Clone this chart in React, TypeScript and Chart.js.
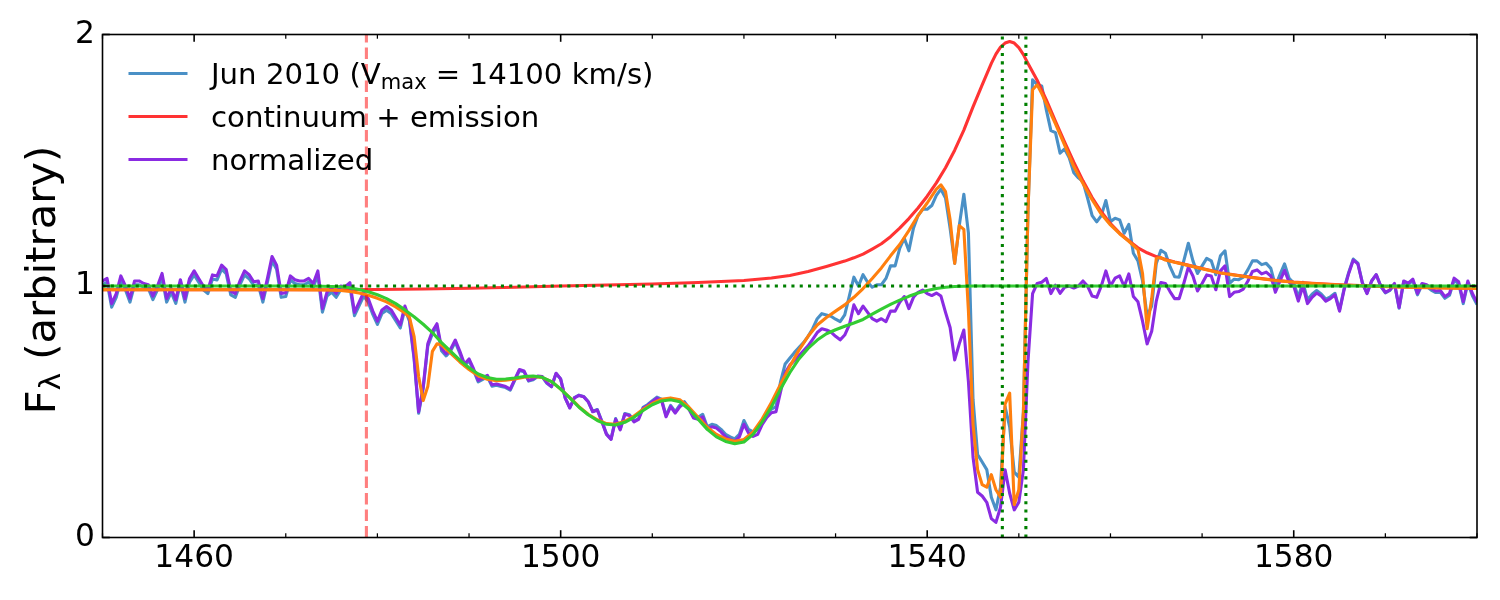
import React, { useEffect, useRef } from "react";
import { Chart, registerables } from "chart.js";

Chart.register(...registerables);

// ---------- axes ----------
const X_MIN = 1450;
const X_MAX = 1600;
const Y_MIN = 0;
const Y_MAX = 2;
const X_MAJOR = [1460, 1500, 1540, 1580];
const X_MINOR = [1450, 1470, 1480, 1490, 1510, 1520, 1530, 1550, 1560, 1570, 1590, 1600];
const Y_MAJOR = [0, 1, 2];

// ---------- observed spectrum (0.5 A sampling from 1450 A) ----------
const OBS_START = 1450;
const OBS_STEP = 0.5;

const NORMALIZED = [
  1.02, 1.03, 0.93, 0.97, 1.04, 1.00, 0.95, 1.02, 1.02, 1.01,
  1.005, 0.96, 1.00, 1.05, 0.95, 0.99, 0.945, 1.025, 0.95, 1.03,
  1.06, 1.03, 1.00, 0.985, 1.044, 1.04, 1.083, 1.065, 0.98, 0.97,
  1.02, 1.06, 1.045, 1.017, 1.02, 0.95, 1.03, 1.117, 1.083, 0.97,
  0.973, 1.04, 1.025, 1.02, 1.02, 1.03, 1.01, 1.06, 0.91, 0.975,
  0.99, 0.97, 1.00, 0.997, 1.013, 0.895, 0.935, 0.975, 0.95, 0.90,
  0.86, 0.905, 0.918, 0.905, 0.875, 0.845, 0.92, 0.87, 0.72, 0.50,
  0.60, 0.77, 0.82, 0.85, 0.752, 0.73, 0.75, 0.785, 0.74, 0.69,
  0.71, 0.67, 0.625, 0.635, 0.645, 0.607, 0.61, 0.605, 0.60, 0.59,
  0.63, 0.668, 0.662, 0.625, 0.63, 0.642, 0.64, 0.615, 0.60, 0.653,
  0.63, 0.554, 0.515, 0.555, 0.565, 0.56, 0.54, 0.50, 0.507, 0.46,
  0.41, 0.39, 0.47, 0.428, 0.49, 0.485, 0.46, 0.47, 0.514, 0.525,
  0.54, 0.554, 0.545, 0.48, 0.52, 0.495, 0.52, 0.535, 0.51, 0.475,
  0.47, 0.48, 0.432, 0.44, 0.435, 0.42, 0.40, 0.39, 0.383, 0.40,
  0.45, 0.415, 0.402, 0.41, 0.45, 0.478, 0.496, 0.50, 0.58, 0.655,
  0.685, 0.703, 0.722, 0.742, 0.762, 0.788, 0.815, 0.83, 0.825, 0.817,
  0.80, 0.786, 0.805, 0.845, 0.925, 0.89, 0.92, 0.895, 0.87, 0.86,
  0.87, 0.858, 0.90, 0.90, 0.935, 0.958, 0.91, 0.955, 0.975, 0.984,
  0.97, 0.962, 0.972, 0.96, 0.895, 0.835, 0.706, 0.77, 0.825, 0.62,
  0.32, 0.18, 0.165, 0.14, 0.075, 0.06, 0.12, 0.269, 0.176, 0.11,
  0.14, 0.27, 0.70, 0.97, 1.01, 1.015, 1.03, 0.97, 1.003, 0.971,
  0.995, 1.0, 0.992, 1.0, 1.02, 1.0, 0.96, 0.955, 1.0, 1.06,
  1.0, 1.031, 1.04, 0.998, 1.048, 0.958, 0.937, 0.86, 0.77, 0.82,
  0.94, 1.014, 1.01, 0.978, 0.95, 0.95, 1.01, 1.075, 1.04, 0.98,
  1.01, 1.044, 1.04, 0.985, 1.06, 1.08, 0.958, 0.975, 0.978, 0.988,
  1.02, 1.058, 1.064, 1.048, 1.055, 1.04, 0.975, 1.02, 1.062, 1.015,
  1.0, 0.94, 1.0, 0.93, 0.955, 0.972, 0.96, 0.94, 0.95, 0.965,
  0.90, 0.985, 1.05, 1.103, 1.088, 1.01, 0.97, 1.02, 1.045, 1.0,
  0.975, 0.985, 1.01, 0.915, 1.02, 1.011, 1.027, 0.97, 1.01, 1.005,
  0.99, 0.98, 0.982, 0.958, 0.97, 1.031, 1.017, 0.938, 1.02, 0.97,
  0.935,
];

const OBSERVED = [
  1.005, 1.015, 0.916, 0.955, 1.024, 0.985, 0.936, 1.005, 1.005, 0.995,
  0.99, 0.946, 0.985, 1.034, 0.936, 0.975, 0.931, 1.01, 0.936, 1.015,
  1.044, 1.015, 0.985, 0.97, 1.028, 1.024, 1.067, 1.049, 0.965, 0.955,
  1.005, 1.044, 1.029, 1.002, 1.005, 0.936, 1.015, 1.10, 1.067, 0.955,
  0.958, 1.024, 1.01, 1.005, 1.005, 1.015, 0.995, 1.044, 0.896, 0.96,
  0.975, 0.955, 0.985, 0.982, 0.998, 0.882, 0.921, 0.96, 0.936, 0.887,
  0.847, 0.891, 0.904, 0.891, 0.862, 0.833, 0.909, 0.86, 0.711, 0.494,
  0.593, 0.761, 0.81, 0.84, 0.743, 0.722, 0.742, 0.777, 0.732, 0.683,
  0.703, 0.664, 0.619, 0.629, 0.639, 0.602, 0.605, 0.60, 0.596, 0.586,
  0.626, 0.664, 0.659, 0.622, 0.627, 0.64, 0.638, 0.613, 0.599, 0.652,
  0.63, 0.554, 0.516, 0.556, 0.566, 0.561, 0.541, 0.501, 0.509, 0.462,
  0.412, 0.392, 0.473, 0.431, 0.493, 0.488, 0.463, 0.473, 0.518, 0.529,
  0.544, 0.558, 0.55, 0.485, 0.525, 0.50, 0.526, 0.54, 0.515, 0.48,
  0.478, 0.49, 0.44, 0.45, 0.445, 0.43, 0.41, 0.40, 0.392, 0.41,
  0.465, 0.43, 0.42, 0.43, 0.46, 0.49, 0.51, 0.52, 0.62, 0.69,
  0.713, 0.735, 0.755, 0.775, 0.80, 0.83, 0.87, 0.89, 0.885, 0.88,
  0.868, 0.858, 0.885, 0.96, 1.035, 1.0, 1.045, 1.015, 0.995, 1.005,
  1.005, 1.03, 1.08, 1.08, 1.15, 1.19, 1.14, 1.23, 1.28, 1.305,
  1.305, 1.32, 1.36, 1.385, 1.35, 1.23, 1.09, 1.24, 1.365, 1.21,
  0.55, 0.33, 0.30, 0.27, 0.16, 0.11, 0.20, 0.52, 0.44, 0.26,
  0.24, 0.50, 1.3, 1.82, 1.80, 1.795, 1.70, 1.618, 1.61, 1.528,
  1.545, 1.51, 1.45, 1.43, 1.415, 1.35, 1.28, 1.255, 1.28, 1.34,
  1.256, 1.269, 1.263, 1.21, 1.245, 1.13, 1.10, 1.02, 0.88, 0.92,
  1.09, 1.142, 1.13, 1.077, 1.037, 1.035, 1.10, 1.17, 1.10, 1.05,
  1.08, 1.11, 1.10, 1.045, 1.12, 1.14, 1.011, 1.027, 1.025, 1.035,
  1.065, 1.10, 1.10, 1.085, 1.09, 1.07, 1.0, 1.045, 1.088, 1.03,
  1.012, 0.955, 1.015, 0.945, 0.967, 0.982, 0.968, 0.948, 0.957, 0.971,
  0.905, 0.99, 1.054, 1.107, 1.091, 1.012, 0.971, 1.02, 1.045, 0.999,
  0.973, 0.983, 1.007, 0.912, 1.016, 1.007, 1.022, 0.965, 1.005, 0.999,
  0.984, 0.974, 0.975, 0.951, 0.963, 1.023, 1.009, 0.93, 1.011, 0.961,
  0.926,
];

// ---------- continuum + emission (red) ----------
const CONT_WAVE = [
  1450, 1476, 1480, 1485, 1490, 1495, 1500, 1505, 1510, 1515,
  1520, 1523, 1525, 1527, 1529, 1531, 1532, 1533, 1534, 1535,
  1536, 1537, 1538, 1539, 1540, 1541, 1542, 1543, 1544, 1545,
  1546, 1547, 1547.5, 1548, 1548.5, 1549, 1549.5, 1550, 1550.5, 1551,
  1552, 1553, 1554, 1555, 1556, 1557, 1558, 1559, 1560, 1561,
  1562, 1563, 1564, 1565, 1566, 1567, 1568, 1570, 1572, 1574,
  1576, 1578, 1580, 1582, 1585, 1588, 1592, 1596, 1600,
];
const CONT_EMISSION = [
  0.985, 0.985, 0.986, 0.988, 0.991, 0.995, 1.0, 1.004, 1.008, 1.014,
  1.022, 1.032, 1.042, 1.058, 1.078, 1.099, 1.112, 1.127, 1.147, 1.168,
  1.196, 1.23, 1.268, 1.31, 1.357, 1.41, 1.47, 1.54, 1.62, 1.712,
  1.80, 1.885, 1.922, 1.95, 1.966, 1.972, 1.966, 1.948, 1.92, 1.885,
  1.818, 1.74, 1.655, 1.572, 1.492, 1.418, 1.352, 1.295, 1.248, 1.21,
  1.18, 1.152, 1.132, 1.117, 1.105, 1.095, 1.087, 1.07, 1.053, 1.042,
  1.032, 1.023, 1.016, 1.011, 1.005, 1.001, 0.996, 0.993, 0.99,
];

// ---------- fitted model (orange) ----------
const FIT_WAVE = [
  1450, 1470, 1474, 1476, 1477, 1478, 1479, 1480, 1481, 1482,
  1483, 1483.5, 1484, 1484.5, 1485, 1485.5, 1486, 1486.5, 1487, 1488,
  1489, 1490, 1491, 1492, 1493, 1494, 1495, 1496, 1497, 1498,
  1499, 1500, 1501, 1502, 1503, 1504, 1505, 1506, 1507, 1508,
  1509, 1510, 1511, 1512, 1513, 1514, 1515, 1516, 1517, 1518,
  1519, 1520, 1521, 1522, 1523, 1524, 1525, 1526, 1527, 1528,
  1529, 1530, 1531, 1532, 1533, 1534, 1535, 1536, 1537, 1538,
  1539, 1540, 1541, 1541.5, 1542, 1542.5, 1543, 1543.5, 1544, 1544.5,
  1545, 1545.5, 1546, 1546.5, 1547, 1547.5, 1548, 1548.5, 1549, 1549.5,
  1550, 1550.5, 1551, 1551.5, 1552, 1552.5, 1553, 1554, 1555, 1556,
  1557, 1558, 1559, 1560, 1561, 1562, 1563, 1563.5, 1564, 1564.5,
  1565, 1565.5, 1566, 1567, 1568, 1570, 1572, 1574, 1576, 1578,
  1580, 1582, 1585, 1588, 1592, 1596, 1600,
];
const FIT = [
  0.985, 0.985, 0.984, 0.982, 0.978, 0.972, 0.963, 0.951, 0.937, 0.917,
  0.893, 0.875, 0.80, 0.64, 0.545, 0.60, 0.74, 0.77, 0.765, 0.732,
  0.698, 0.668, 0.643, 0.629, 0.623, 0.625, 0.63, 0.637, 0.64, 0.636,
  0.62, 0.59, 0.556, 0.52, 0.49, 0.468, 0.453, 0.45, 0.462, 0.483,
  0.51, 0.533, 0.55, 0.555, 0.548, 0.518, 0.478, 0.438, 0.41, 0.392,
  0.383, 0.39, 0.42, 0.472, 0.537, 0.61, 0.68, 0.745, 0.80, 0.845,
  0.875, 0.90, 0.925, 0.955, 0.99, 1.03, 1.072, 1.12, 1.165, 1.22,
  1.28, 1.33, 1.385, 1.402, 1.375, 1.263, 1.09, 1.24, 1.225, 0.90,
  0.45, 0.27, 0.21, 0.20, 0.25, 0.19, 0.16, 0.53, 0.574, 0.13,
  0.19, 0.50, 1.3, 1.78, 1.80, 1.765, 1.725, 1.645, 1.56, 1.475,
  1.408, 1.343, 1.286, 1.243, 1.208, 1.178, 1.145, 1.05, 0.83, 0.95,
  1.11, 1.113, 1.103, 1.094, 1.086, 1.069, 1.052, 1.041, 1.031, 1.022,
  1.015, 1.01, 1.004, 1.0, 0.995, 0.992, 0.99,
];

// ---------- broad absorption profile (green) ----------
const ABS_WAVE = [
  1450, 1470, 1474, 1476, 1477, 1478, 1479, 1480, 1481, 1482,
  1483, 1484, 1485, 1486, 1487, 1488, 1489, 1490, 1491, 1492,
  1493, 1494, 1495, 1496, 1497, 1498, 1499, 1500, 1501, 1502,
  1503, 1504, 1505, 1506, 1507, 1508, 1509, 1510, 1511, 1512,
  1513, 1514, 1515, 1516, 1517, 1518, 1519, 1520, 1521, 1522,
  1523, 1524, 1525, 1526, 1527, 1528, 1529, 1530, 1531, 1532,
  1533, 1534, 1535, 1536, 1537, 1538, 1539, 1540, 1541, 1542,
  1543, 1545, 1600,
];
const ABS_PROFILE = [
  1.0, 1.0, 0.999, 0.997, 0.993, 0.986, 0.977, 0.965, 0.95, 0.93,
  0.905, 0.878, 0.848, 0.815, 0.775, 0.74, 0.705, 0.675, 0.65, 0.636,
  0.629, 0.63, 0.634, 0.64, 0.642, 0.637, 0.62, 0.59, 0.555, 0.518,
  0.488, 0.465, 0.45, 0.447, 0.458, 0.478, 0.505, 0.528, 0.543, 0.548,
  0.54, 0.51, 0.47, 0.43, 0.40, 0.382, 0.373, 0.38, 0.41, 0.46,
  0.52, 0.59, 0.655, 0.71, 0.752, 0.785, 0.81, 0.826, 0.84, 0.853,
  0.867, 0.888, 0.908, 0.927, 0.944, 0.959, 0.972, 0.982, 0.99, 0.995,
  0.998, 1.0, 1.0,
];

// ---------- reference lines ----------
const CONTINUUM_LEVEL = 1;
const VMAX_WAVE = 1478.8;
const CIV_WAVES = [1548.2, 1550.77];

const LEGEND_ROWS = [
  { key: "obs", parts: [["Jun 2010 (V", false], ["max", true], [" = 14100 km/s)", false]] },
  { key: "cont", parts: [["continuum + emission", false]] },
  { key: "norm", parts: [["normalized", false]] },
];

const COLORS: Record<string, string> = {
  obs: "#4a90c6",
  cont: "#ff3333",
  norm: "#8a2be2",
  fit: "#ff7f0e",
  abs: "#33cc33",
  ref: "#008000",
  vmax: "rgba(255,0,0,0.5)",
};

const FONT = '"DejaVu Sans"';

function pts(xs: number[], ys: number[]) {
  return xs.map((x, i) => ({ x, y: ys[i] }));
}

export default function App() {
  const ref = useRef<HTMLCanvasElement>(null);

  useEffect(() => {
    const canvas = ref.current!;
    const obsX = NORMALIZED.map((_, i) => OBS_START + i * OBS_STEP);

    const frame = {
      id: "frame",
      afterDatasetsDraw(chart: any) {
        const { ctx, chartArea: a, scales } = chart;
        const x = scales.x, y = scales.y;
        ctx.save();
        ctx.strokeStyle = "#000";
        const seg = (x1: number, y1: number, x2: number, y2: number) => {
          ctx.beginPath();
          ctx.moveTo(x1, y1);
          ctx.lineTo(x2, y2);
          ctx.stroke();
        };
        ctx.lineWidth = 1.6;
        for (const v of X_MAJOR) {
          const p = x.getPixelForValue(v);
          seg(p, a.bottom, p, a.bottom - 7.3);
          seg(p, a.top, p, a.top + 7.3);
        }
        for (const v of Y_MAJOR) {
          const p = y.getPixelForValue(v);
          seg(a.left, p, a.left + 7.3, p);
          seg(a.right, p, a.right - 7.3, p);
        }
        ctx.lineWidth = 1.25;
        for (const v of X_MINOR) {
          const p = x.getPixelForValue(v);
          seg(p, a.bottom, p, a.bottom - 4.2);
          seg(p, a.top, p, a.top + 4.2);
        }
        ctx.lineWidth = 1.6;
        ctx.strokeRect(a.left, a.top, a.right - a.left, a.bottom - a.top);
        ctx.restore();
      },
      afterDraw(chart: any) {
        const { ctx, chartArea: a } = chart;
        ctx.save();
        // legend
        const fs = 29.2;
        const rowY = [73.5, 116.5, 159.5];
        LEGEND_ROWS.forEach((row, i) => {
          const yy = a.top + (rowY[i] - 34.5);
          ctx.strokeStyle = COLORS[row.key];
          ctx.lineWidth = 3.1;
          ctx.beginPath();
          ctx.moveTo(a.left + 26, yy);
          ctx.lineTo(a.left + 85, yy);
          ctx.stroke();
          let tx = a.left + 108.5;
          ctx.fillStyle = "#000";
          ctx.textBaseline = "alphabetic";
          ctx.textAlign = "left";
          for (const [t, sub] of row.parts as [string, boolean][]) {
            const size = sub ? fs * 0.72 : fs;
            ctx.font = `${size}px ${FONT}`;
            ctx.fillText(t, tx, yy + 10.5 + (sub ? 0.16 * fs : 0));
            tx += ctx.measureText(t).width;
          }
        });
        // y label
        const ls = 41.7;
        const parts: [string, boolean][] = [["F", false], ["λ", true], [" (arbitrary)", false]];
        let total = 0;
        for (const [t, sub] of parts) {
          ctx.font = `${sub ? ls * 0.7 : ls}px ${FONT}`;
          total += ctx.measureText(t).width;
        }
        ctx.translate(55, (a.top + a.bottom) / 2 - 6);
        ctx.rotate(-Math.PI / 2);
        let lx = -total / 2;
        for (const [t, sub] of parts) {
          ctx.font = `${sub ? ls * 0.7 : ls}px ${FONT}`;
          ctx.fillText(t, lx, sub ? 0.12 * ls : 0);
          lx += ctx.measureText(t).width;
        }
        ctx.restore();
      },
    };

    const line = (data: any[], color: string, order: number, extra: any = {}) => ({
      data,
      borderColor: color,
      backgroundColor: color,
      borderWidth: 3.1,
      showLine: true,
      pointRadius: 0,
      tension: 0,
      fill: false,
      order,
      borderJoinStyle: "round",
      ...extra,
    });

    const dotted = { borderDash: [3.1, 5.2], borderCapStyle: "butt", borderJoinStyle: "miter" };

    const datasets: any[] = [
      line(pts(obsX, OBSERVED), COLORS.obs, 10),
      line(pts(CONT_WAVE, CONT_EMISSION), COLORS.cont, 9),
      line(pts(obsX, NORMALIZED), COLORS.norm, 8),
      line(pts(FIT_WAVE, FIT), COLORS.fit, 7),
      line(pts(ABS_WAVE, ABS_PROFILE), COLORS.abs, 6),
      line(
        [
          { x: X_MIN, y: CONTINUUM_LEVEL },
          { x: X_MAX, y: CONTINUUM_LEVEL },
        ],
        COLORS.ref,
        5,
        dotted
      ),
      ...CIV_WAVES.map((w, i) =>
        line(
          [
            { x: w, y: Y_MIN },
            { x: w, y: Y_MAX },
          ],
          COLORS.ref,
          4 - i,
          dotted
        )
      ),
      line(
        [
          { x: VMAX_WAVE, y: Y_MIN },
          { x: VMAX_WAVE, y: Y_MAX },
        ],
        COLORS.vmax,
        1,
        { borderDash: [11.5, 5], borderCapStyle: "butt" }
      ),
    ];

    const tickFont = { family: "DejaVu Sans", size: 31.25 };

    const chart = new Chart(canvas, {
      type: "scatter",
      data: { datasets },
      options: {
        responsive: false,
        animation: false,
        devicePixelRatio: 1,
        layout: { padding: { top: 34.5, right: 23, left: 0, bottom: 0 } },
        plugins: { legend: { display: false }, tooltip: { enabled: false } },
        events: [],
        scales: {
          x: {
            type: "linear",
            min: X_MIN,
            max: X_MAX,
            afterBuildTicks: (ax: any) => {
              ax.ticks = X_MAJOR.map((value) => ({ value }));
            },
            afterFit: (s: any) => {
              s.height = 62.5;
            },
            grid: { display: false, drawTicks: false },
            border: { display: false },
            ticks: {
              font: tickFont,
              color: "#000",
              padding: 3,
              maxRotation: 0,
              autoSkip: false,
              callback: (v: any) => String(v),
            },
          },
          y: {
            type: "linear",
            min: Y_MIN,
            max: Y_MAX,
            afterBuildTicks: (ax: any) => {
              ax.ticks = Y_MAJOR.map((value) => ({ value }));
            },
            afterFit: (s: any) => {
              s.width = 102.5;
            },
            grid: { display: false, drawTicks: false },
            border: { display: false },
            ticks: {
              font: tickFont,
              color: "#000",
              padding: 7.5,
              autoSkip: false,
              callback: (v: any) => String(v),
            },
          },
        },
      } as any,
      plugins: [frame],
    });

    return () => chart.destroy();
  }, []);

  return (
    <div style={{ position: "fixed", left: 0, top: 0, width: 1500, height: 600, background: "#fff" }}>
      <canvas ref={ref} width={1500} height={600} style={{ width: 1500, height: 600, display: "block" }} />
    </div>
  );
}
